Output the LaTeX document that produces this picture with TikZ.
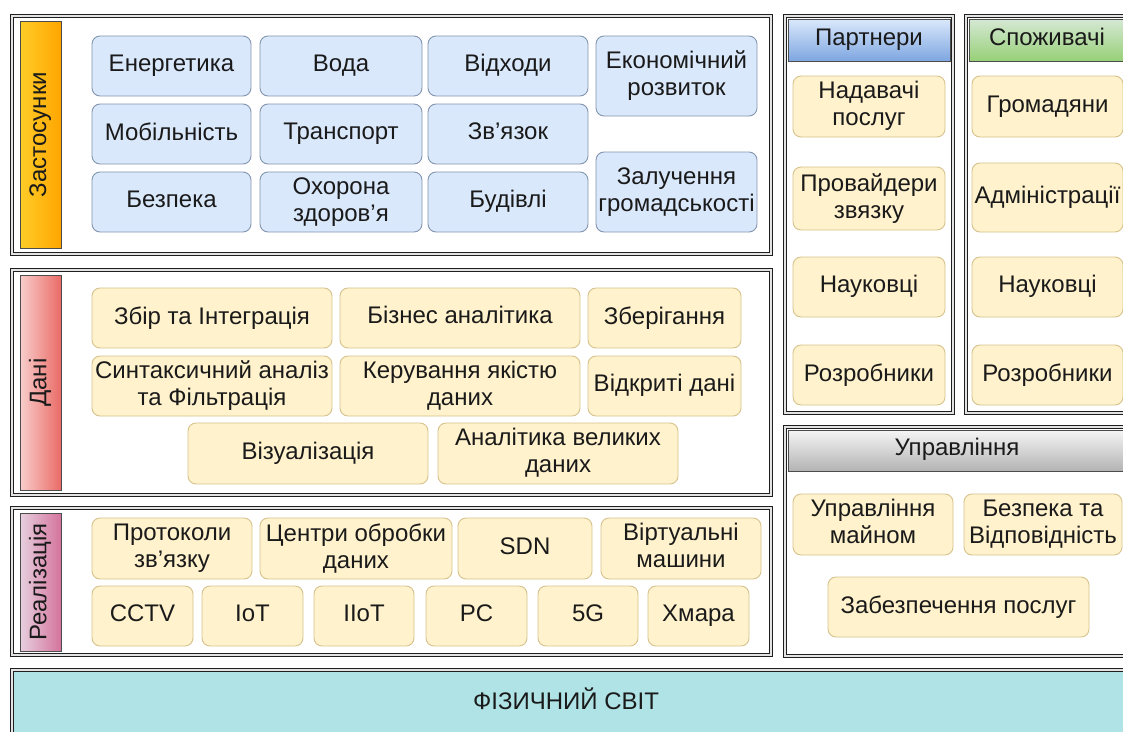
\documentclass[tikz,border=0pt]{standalone}
\usepackage{fontspec}
\setmainfont{Liberation Sans}
\definecolor{txt}{HTML}{1A1A1A}
\definecolor{bluefill}{HTML}{DAE8FC}
\definecolor{bluedraw}{HTML}{8595B0}
\definecolor{yelfill}{HTML}{FFF2CC}
\definecolor{yeldraw}{HTML}{D6C28A}
\definecolor{cyanfill}{HTML}{B0E3E6}
\definecolor{orA}{HTML}{FFCD28}
\definecolor{orB}{HTML}{FFA500}
\definecolor{redA}{HTML}{F8CECC}
\definecolor{redB}{HTML}{EA6B66}
\definecolor{pinkA}{HTML}{E6D0DE}
\definecolor{pinkB}{HTML}{D5739D}
\definecolor{phA}{HTML}{DAE8FC}
\definecolor{phB}{HTML}{7EA6E0}
\definecolor{chA}{HTML}{D5E8D4}
\definecolor{chB}{HTML}{97D077}
\definecolor{mhA}{HTML}{F5F5F5}
\definecolor{mhB}{HTML}{B3B3B3}
\newcommand{\fs}{\fontsize{24}{27}\selectfont}
\newcommand{\mystrut}{\rule[-5.5pt]{0pt}{20.5pt}}
\newcommand{\bx}[7]{\node[#7, minimum width={(#4)-(#2)}, minimum height={(#5)-(#3)}] (#1) at ({((#2)+(#4))/2},{((#3)+(#5))/2}) {#6};}
\tikzset{
  box/.style={rectangle, rounded corners=8pt, inner sep=0pt, outer sep=0pt, align=center, line width=0.9pt, text=txt, font=\fs, execute at begin node=\mystrut, execute at end node=\mystrut},
  bluebox/.style={box, draw=bluedraw, fill=bluefill},
  yelbox/.style={box, draw=yeldraw, fill=yelfill},
  cont/.style={rectangle, draw=black!88, line width=1.9pt, double=gray!22, double distance=1.1pt, inner sep=0pt, outer sep=0pt},
  side/.style={rectangle, draw=gray!60!black, line width=0.6pt, inner sep=0pt, outer sep=0pt},
  head/.style={rectangle, draw=gray!60!black, line width=0.6pt, inner sep=0pt, outer sep=0pt, font=\fs, text=txt},
  lbl/.style={font=\fs, text=txt, inner sep=0pt, execute at begin node=\mystrut}
}
\begin{document}
\begin{tikzpicture}[x=1pt, y=-1pt]
\useasboundingbox (0,0) rectangle (1123,731);
\clip (0,0) rectangle (1123,731);
\fill[white] (0,0) rectangle (1123,731);
% containers
\bx{apps}{12}{16}{771}{254}{}{cont, fill=white}
\bx{data}{12}{270}{771}{495}{}{cont, fill=white}
\bx{impl}{12}{508}{771}{655}{}{cont, fill=white}
\bx{phys}{12}{670}{1140}{745}{}{cont, fill=cyanfill}
\bx{partners}{785}{16}{953}{413}{}{cont, fill=white}
\bx{consumers}{966}{16}{1140}{413}{}{cont, fill=white}
\bx{mgmt}{785}{427}{1140}{656}{}{cont, fill=white}
% sidebars
\bx{sapp}{20}{21}{61}{248}{}{side, left color=orA, right color=orB}
\node[lbl, rotate=90] (sappl) at (sapp) {Застосунки};
\bx{sdata}{20}{275}{61}{490}{}{side, left color=redA, right color=redB}
\node[lbl, rotate=90] (sdatal) at (sdata) {Дані};
\bx{simpl}{20}{513}{61}{651}{}{side, left color=pinkA, right color=pinkB}
\node[lbl, rotate=90] (simpll) at (simpl) {Реалізація};
% headers
\bx{phead}{788}{19}{950}{61}{}{head, top color=phA, bottom color=phB}
\node[lbl] (pheadl) at (phead) {Партнери};
\bx{chead}{969}{19}{1140}{61}{}{head, top color=chA, bottom color=chB}
\node[lbl] (cheadl) at (1047,40) {Споживачі};
\bx{mhead}{788}{430}{1140}{471}{}{head, top color=mhA, bottom color=mhB}
\node[lbl] (mheadl) at (957,450) {Управління};
% applications
\bx{energy}{92}{36}{251}{96}{Енергетика}{bluebox}
\bx{water}{260}{36}{422}{96}{Вода}{bluebox}
\bx{waste}{428}{36}{588}{96}{Відходи}{bluebox}
\bx{econ}{596}{36}{757}{116}{Економічний\\розвиток}{bluebox}
\bx{mob}{92}{104}{251}{164}{Мобільність}{bluebox}
\bx{trans}{260}{104}{422}{164}{Транспорт}{bluebox}
\bx{comm}{428}{104}{588}{164}{Зв’язок}{bluebox}
\bx{safety}{92}{172}{251}{232}{Безпека}{bluebox}
\bx{health}{260}{172}{422}{232}{Охорона\\здоров'я}{bluebox}
\bx{build}{428}{172}{588}{232}{Будівлі}{bluebox}
\bx{engage}{596}{152}{757}{232}{Залучення\\громадськості}{bluebox}
% data
\bx{collect}{92}{288}{332}{348}{Збір та Інтеграція}{yelbox}
\bx{bi}{340}{288}{580}{348}{Бізнес аналітика}{yelbox}
\bx{store}{588}{288}{741}{348}{Зберігання}{yelbox}
\bx{parse}{92}{356}{332}{416}{Синтаксичний аналіз\\та Фільтрація}{yelbox}
\bx{quality}{340}{356}{580}{416}{Керування якістю\\даних}{yelbox}
\bx{open}{588}{356}{741}{416}{Відкриті дані}{yelbox}
\bx{vis}{188}{423}{428}{484}{Візуалізація}{yelbox}
\bx{bigdata}{438}{423}{678}{484}{Аналітика великих\\даних}{yelbox}
% implementation
\bx{proto}{92}{518}{252}{579}{Протоколи\\зв'язку}{yelbox}
\bx{dc}{260}{518}{452}{579}{Центри обробки\\даних}{yelbox}
\bx{sdn}{458}{518}{592}{579}{SDN}{yelbox}
\bx{vm}{601}{518}{761}{579}{Віртуальні\\машини}{yelbox}
\bx{cctv}{92}{586}{193}{646}{CCTV}{yelbox}
\bx{iot}{202}{586}{303}{646}{IoT}{yelbox}
\bx{iiot}{314}{586}{414}{646}{IIoT}{yelbox}
\bx{pc}{426}{586}{527}{646}{PC}{yelbox}
\bx{fiveg}{538}{586}{638}{646}{5G}{yelbox}
\bx{cloud}{648}{586}{749}{646}{Хмара}{yelbox}
% partners
\bx{prov}{793}{76}{945}{137}{Надавачі\\послуг}{yelbox}
\bx{isp}{793}{167}{945}{230}{Провайдери\\звязку}{yelbox}
\bx{sci1}{793}{257}{945}{317}{Науковці}{yelbox}
\bx{dev1}{793}{345}{945}{405}{Розробники}{yelbox}
% consumers
\bx{cit}{972}{76}{1123}{137}{Громадяни}{yelbox}
\bx{adm}{972}{163}{1123}{232}{Адміністрації}{yelbox}
\bx{sci2}{972}{257}{1123}{317}{Науковці}{yelbox}
\bx{dev2}{972}{345}{1123}{405}{Розробники}{yelbox}
% management
\bx{asset}{793}{494}{953}{555}{Управління\\майном}{yelbox}
\bx{secc}{964}{494}{1122}{555}{Безпека та\\Відповідність}{yelbox}
\bx{servprov}{828}{577}{1089}{637}{Забезпечення послуг}{yelbox}
% physical world
\node[lbl] (physl) at (566,701) {ФІЗИЧНИЙ СВІТ};
\end{tikzpicture}
\end{document}
